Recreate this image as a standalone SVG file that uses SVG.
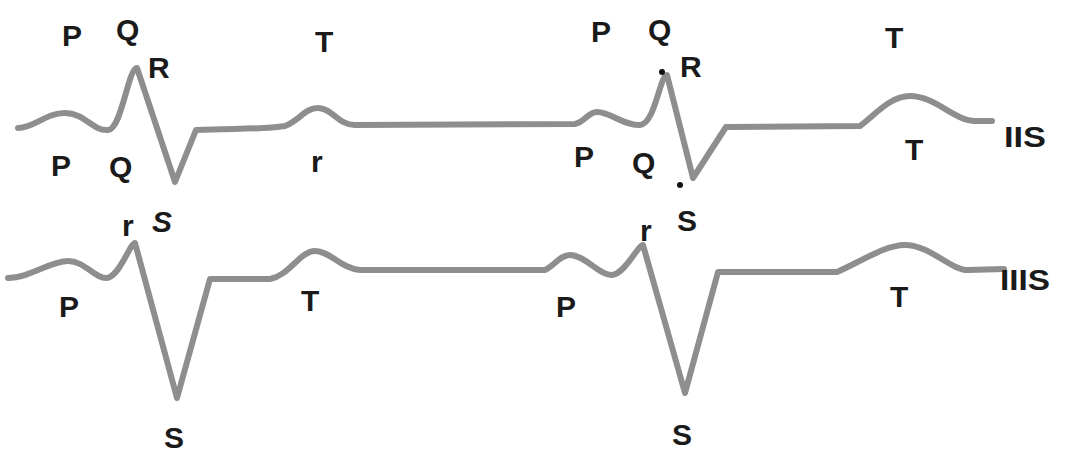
<svg xmlns="http://www.w3.org/2000/svg" width="1074" height="452" viewBox="0 0 1074 452">
<style>
.tr{fill:none;stroke:#8e8e8e;stroke-width:6;stroke-linejoin:round;stroke-linecap:round}
.lb{font-family:"Liberation Sans",Arial,sans-serif;font-weight:bold;font-size:30px;fill:#1a1a1a}
</style>
<rect width="1074" height="452" fill="#fff"/>
<g id="connectors">
<path id="lead2" class="tr" d="M18,128 C35,128 45,113 65,113 C85,113 92,131 108,130 C122,129 128,68 137,68 L175,182 L196,130 C230,128 260,130 285,126 C300,120 305,108 318,108 C332,108 338,125 355,125 L575,124 C585,122 588,112 597,112 C610,112 625,126 640,125 C655,124 660,75 667,75 L693,178 L726,127 L860,126 C875,115 890,96 910,96 C935,96 955,121 975,121 L992,121"/>
<path id="lead3" class="tr" d="M8,278 C30,278 50,261 68,261 C85,261 95,279 107,278 C120,276 130,243 135,243 L177,398 L210,279 L270,279 C290,275 300,251 315,251 C330,251 340,268 360,270 L545,270 C555,265 560,255 570,255 C585,255 600,276 612,275 C625,274 638,245 643,245 L685,393 L718,272 L837,272 C860,262 885,245 905,245 C930,245 950,270 968,270 L1004,269"/>
</g>
<g id="dots" fill="#111">
<circle cx="662" cy="72" r="3"/>
<circle cx="680" cy="185" r="3"/>
</g>
<g id="labels-top">
<text class="lb" x="62" y="46">P</text>
<text class="lb" x="116" y="40">Q</text>
<text class="lb" x="148" y="78">R</text>
<text class="lb" x="315" y="52">T</text>
<text class="lb" x="51" y="176">P</text>
<text class="lb" x="109" y="177">Q</text>
<text class="lb" x="311" y="172">r</text>
<text class="lb" x="591" y="42">P</text>
<text class="lb" x="648" y="40">Q</text>
<text class="lb" x="680" y="77">R</text>
<text class="lb" x="574" y="167">P</text>
<text class="lb" x="632" y="173">Q</text>
<text class="lb" x="885" y="48">T</text>
<text class="lb" x="905" y="160">T</text>
<text class="lb" x="1004" y="147" textLength="42" lengthAdjust="spacingAndGlyphs">IIS</text>
</g>
<g id="labels-bottom">
<text class="lb" x="122" y="236">r</text>
<text class="lb" x="152" y="232" font-style="italic">S</text>
<text class="lb" x="59" y="317">P</text>
<text class="lb" x="301" y="311">T</text>
<text class="lb" x="164" y="448">S</text>
<text class="lb" x="640" y="241">r</text>
<text class="lb" x="677" y="231">S</text>
<text class="lb" x="556" y="317">P</text>
<text class="lb" x="890" y="307">T</text>
<text class="lb" x="672" y="445">S</text>
<text class="lb" x="1000" y="290" textLength="50" lengthAdjust="spacingAndGlyphs">IIIS</text>
</g>
</svg>
